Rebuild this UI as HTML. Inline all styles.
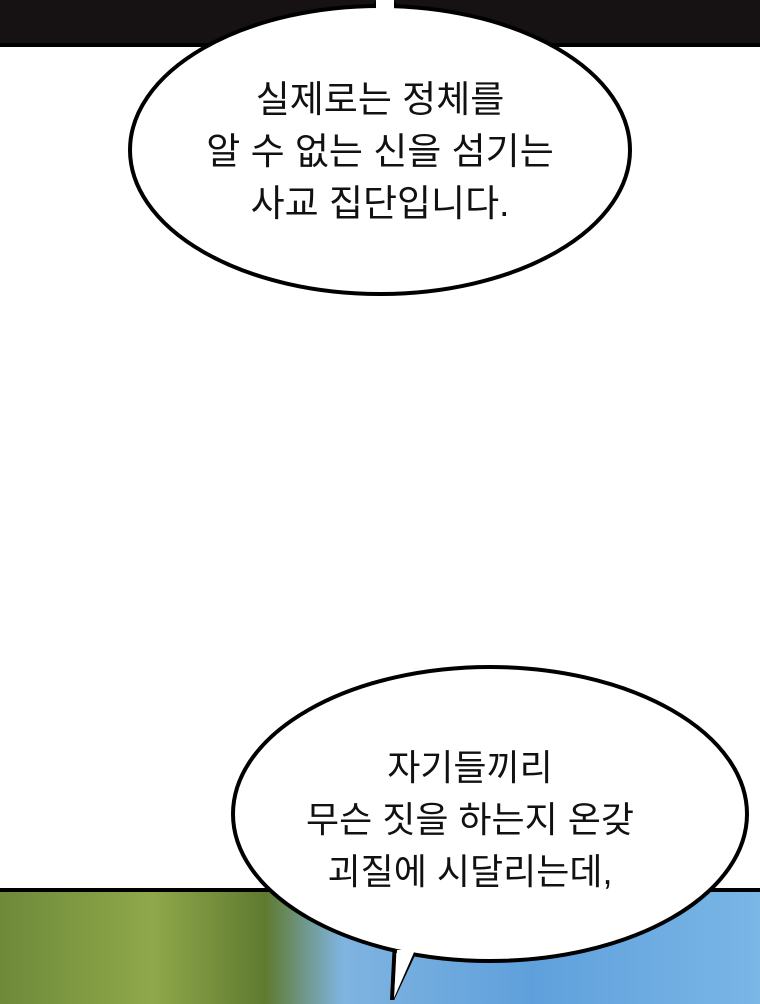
<!DOCTYPE html>
<html><head><meta charset="utf-8"><style>
body{margin:0;width:760px;height:1000px;overflow:hidden;background:#fff;position:relative;font-family:"Liberation Sans","Noto Sans CJK KR",sans-serif}
.top{position:absolute;left:0;top:0;width:760px;height:43px;background:#161213;border-bottom:4px solid #000}
.bot{position:absolute;left:0;top:888px;width:760px;height:112px;border-top:4px solid #000;background:linear-gradient(90deg,#6e8a3a 0,#8fa84a 20%,#5f7a30 35%,#7fb4e0 45%,#5fa0dc 70%,#7ab6e6 100%)}
svg{position:absolute;left:0;top:0}
.t{position:absolute;text-align:center;line-height:52px;color:#111;width:500px}
</style></head><body>
<div class="top"></div>
<div class="bot"></div>
<svg width="760" height="1000">
<path d="M372,8 L385,-5 L398,8" fill="#fff" stroke="#000" stroke-width="4"/>
<ellipse cx="380" cy="150" rx="250" ry="144" fill="#fff" stroke="#000" stroke-width="4"/>
<rect x="376" y="0" width="18" height="12" fill="#fff"/>
<path d="M395,940 L392,1000 L420,940" fill="#fff" stroke="#000" stroke-width="4"/>
<ellipse cx="490" cy="814" rx="257" ry="147" fill="#fff" stroke="#000" stroke-width="4"/>
<path d="M397,950 L394,998 L415,950Z" fill="#fff"/>
</svg>
<div class="t" style="left:130px;top:74px;font-size:37px">실제로는 정체를<br>알 수 없는 신을 섬기는<br>사교 집단입니다.</div>
<div class="t" style="left:220px;top:742px;font-size:36px">자기들끼리<br>무슨 짓을 하는지 온갖<br>괴질에 시달리는데,</div>
</body></html>
